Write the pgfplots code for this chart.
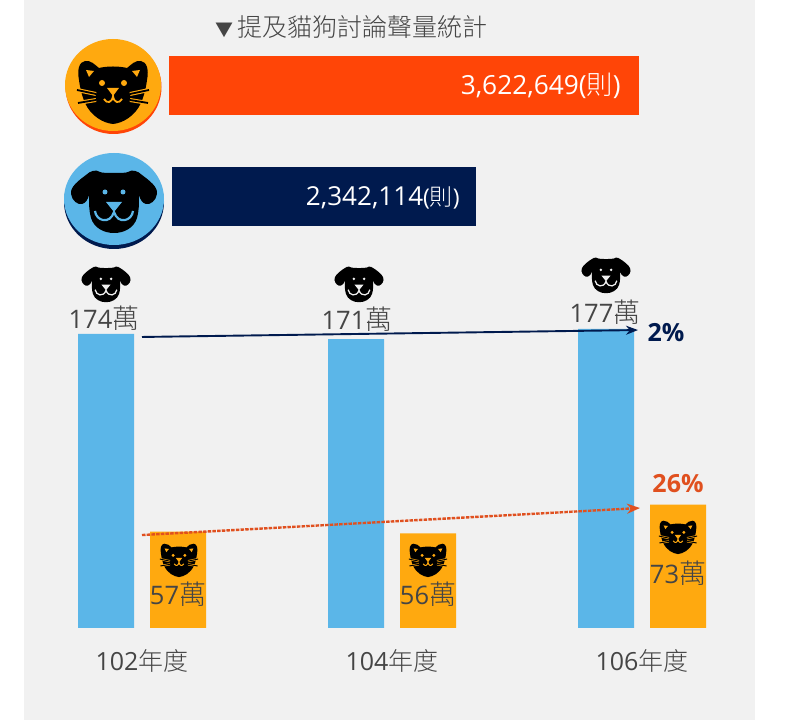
\documentclass[border=0pt]{standalone}
\usepackage{fontspec}
\setmainfont{Open Sans}
\newfontfamily\cjk{Noto Sans CJK TC Light}
\usepackage{pgfplots}
\pgfplotsset{compat=1.18}
\usetikzlibrary{arrows.meta}
\definecolor{amber}{HTML}{FFA90F}
\definecolor{redo}{HTML}{FF4507}
\definecolor{navy}{HTML}{001A4E}
\definecolor{sky}{HTML}{5BB6E8}
\definecolor{bg}{HTML}{F1F1F1}
\definecolor{txt}{HTML}{454545}
\definecolor{pct}{HTML}{E0501F}
% #1 x, #2 y (pt from bottom), #3 scale, #4 detail colour
\newcommand\catface[4]{%
\begin{scope}[shift={(#1,#2)},scale=#3]
\fill[black] (-28,27) .. controls (-22,28) and (-18,23) .. (-14,20)
  .. controls (-6,22) and (6,22) .. (14,20)
  .. controls (18,23) and (22,28) .. (28,27)
  .. controls (34,26) and (36,18) .. (34,8)
  .. controls (33,0) and (31,-8) .. (28,-15)
  .. controls (22,-28) and (10,-35) .. (0,-36)
  .. controls (-10,-35) and (-22,-28) .. (-28,-15)
  .. controls (-31,-8) and (-33,0) .. (-34,8)
  .. controls (-36,18) and (-34,26) .. (-28,27) -- cycle;
\fill[#4] (-27,18)--(-19,17)--(-24,11)--cycle (27,18)--(19,17)--(24,11)--cycle;
\fill[#4] (-11,5) circle (3) (11,5) circle (3);
\fill[#4] (-6,0)--(6,0)--(0,-8)--cycle;
\draw[#4,line width=#3*1.8pt] (-9,-11) .. controls (-6,-16) and (-1,-15) .. (0,-8) .. controls (1,-15) and (6,-16) .. (9,-11);
\foreach \s in {-1,1}{
\draw[#4,line width=#3*4pt] (\s*36,-2)--(\s*17,-6) (\s*35,-15)--(\s*17,-12);
\draw[black,line width=#3*1.8pt] (\s*36,-2)--(\s*17,-6) (\s*35,-15)--(\s*17,-12);}
\end{scope}}
\newcommand\dogface[4]{%
\begin{scope}[shift={(#1,#2)},scale=#3]
\fill[black] (0,28) .. controls (-6,28) and (-12,28) .. (-14,29)
  .. controls (-18,32) and (-24,30) .. (-28,26)
  .. controls (-36,20) and (-44,14) .. (-43,7)
  .. controls (-42,0) and (-36,-4) .. (-32,-3)
  .. controls (-28,-2) and (-26,2) .. (-25,6)
  .. controls (-25,-3) and (-25,-10) .. (-23,-17)
  .. controls (-20,-27) and (-10,-32) .. (0,-32)
  .. controls (10,-32) and (20,-27) .. (23,-17)
  .. controls (25,-10) and (25,-3) .. (25,6)
  .. controls (26,2) and (28,-2) .. (32,-3)
  .. controls (36,-4) and (42,0) .. (43,7)
  .. controls (44,14) and (36,20) .. (28,26)
  .. controls (24,30) and (18,32) .. (14,29)
  .. controls (12,28) and (6,28) .. (0,28) -- cycle;
\fill[#4] (-9,9) circle (2.5) (9,9) circle (2.5);
\fill[#4] (-8,-1)--(8,-1)--(0,-11)--cycle;
\draw[#4,line width=#3*2.2pt] (-19,-10) .. controls (-18,-20) and (-4,-24) .. (0,-11) .. controls (4,-24) and (18,-20) .. (19,-10);
\end{scope}}
\begin{document}
\begin{tikzpicture}[x=1pt,y=1pt]
\path[use as bounding box,fill=white] (0,0) rectangle (785,720);
\fill[bg] (24,0) rectangle (755,720);
% title
\node[anchor=west,text=txt,font=\cjk\fontsize{25}{28}\selectfont,inner sep=0pt] at (215,693) {{\fontsize{18}{20}\selectfont ▼}\hspace{4pt}提及貓狗討論聲量統計};
% top bars
\begin{axis}[at={(169pt,605pt)},anchor=south west,scale only axis,width=480pt,height=59pt,
  hide axis,xmin=0,xmax=3700000,ymin=0,ymax=1,clip=false]
\addplot[ybar interval=1,draw=none,fill=redo] coordinates {(0,1)(3622649,1)};
\node[anchor=east,text=white,inner sep=0pt,font=\fontsize{26.3}{28}\selectfont] at (axis cs:3484000,0.49) {3,622,649({\cjk 則})};
\end{axis}
\begin{axis}[at={(172pt,494pt)},anchor=south west,scale only axis,width=480pt,height=59pt,
  hide axis,xmin=0,xmax=3700000,ymin=0,ymax=1,clip=false]
\addplot[ybar interval=1,draw=none,fill=navy] coordinates {(0,1)(2342114,1)};
\node[anchor=east,text=white,inner sep=0pt,font=\fontsize{26.1}{28}\selectfont] at (axis cs:2220000,0.48) {2,342,114{\fontsize{23}{24}\selectfont({\cjk 則})}};
\end{axis}
% main bars
\begin{axis}[at={(24pt,92pt)},anchor=south west,scale only axis,width=731pt,height=340pt,
  xmin=-0.472,xmax=2.452,ymin=0,ymax=201.18,
  axis line style={draw=none},tick style={draw=none},ytick=\empty,
  xtick={0,1,2},xticklabels={102{\cjk 年度},104{\cjk 年度},106{\cjk 年度}},
  x tick label style={text=txt,font=\fontsize{25}{28}\selectfont,yshift=-18pt},
  clip=false]
\addplot[ybar,bar width=56pt,bar shift=-36pt,draw=none,fill=sky] coordinates {(0,174)(1,171)(2,177)};
\addplot[ybar,bar width=56pt,bar shift=36pt,draw=none,fill=amber] coordinates {(0,57)(1,56)(2,73)};
\addplot[navy,line width=1.9pt,-{Stealth[length=12pt,width=9pt]}] coordinates {(0,172.2)(1.984,176.3)};
\addplot[pct,line width=2.4pt,dash pattern=on 3.5pt off 1.2pt,-{Stealth[length=13pt,width=10pt]}] coordinates {(0,55)(1.992,71)};
\end{axis}
% value labels
\begin{scope}[every node/.style={text=txt,inner sep=0pt,font=\fontsize{25.5}{28}\selectfont}]
\node at (104,402) {174{\cjk\fontsize{27}{28}\selectfont 萬}};
\node at (357,401) {171{\cjk\fontsize{27}{28}\selectfont 萬}};
\node at (605,408) {177{\cjk\fontsize{27}{28}\selectfont 萬}};
\node at (178,126) {57{\cjk\fontsize{27}{28}\selectfont 萬}};
\node at (428,126) {56{\cjk\fontsize{27}{28}\selectfont 萬}};
\node at (678,147) {73{\cjk\fontsize{27}{28}\selectfont 萬}};
\end{scope}
\node[text=navy,inner sep=0pt,font=\bfseries\fontsize{25}{28}\selectfont] at (666,387) {2\%};
\node[text=pct,inner sep=0pt,font=\bfseries\fontsize{25}{28}\selectfont] at (678,236) {26\%};
% big icons
\fill[redo] (113.5,633) ellipse (48 and 47);
\fill[amber] (113,635) ellipse (48 and 46);
\catface{113}{632}{1}{amber}
\fill[navy] (114,518) ellipse (50 and 47);
\fill[sky] (114,521) ellipse (50 and 46);
\dogface{114}{519}{1}{sky}
% small icons
\dogface{106}{436}{0.57}{bg}
\dogface{359}{436}{0.57}{bg}
\dogface{606}{445}{0.57}{bg}
\catface{179}{162}{0.53}{amber}
\catface{428}{162}{0.53}{amber}
\catface{678}{185}{0.53}{amber}
\end{tikzpicture}
\end{document}
